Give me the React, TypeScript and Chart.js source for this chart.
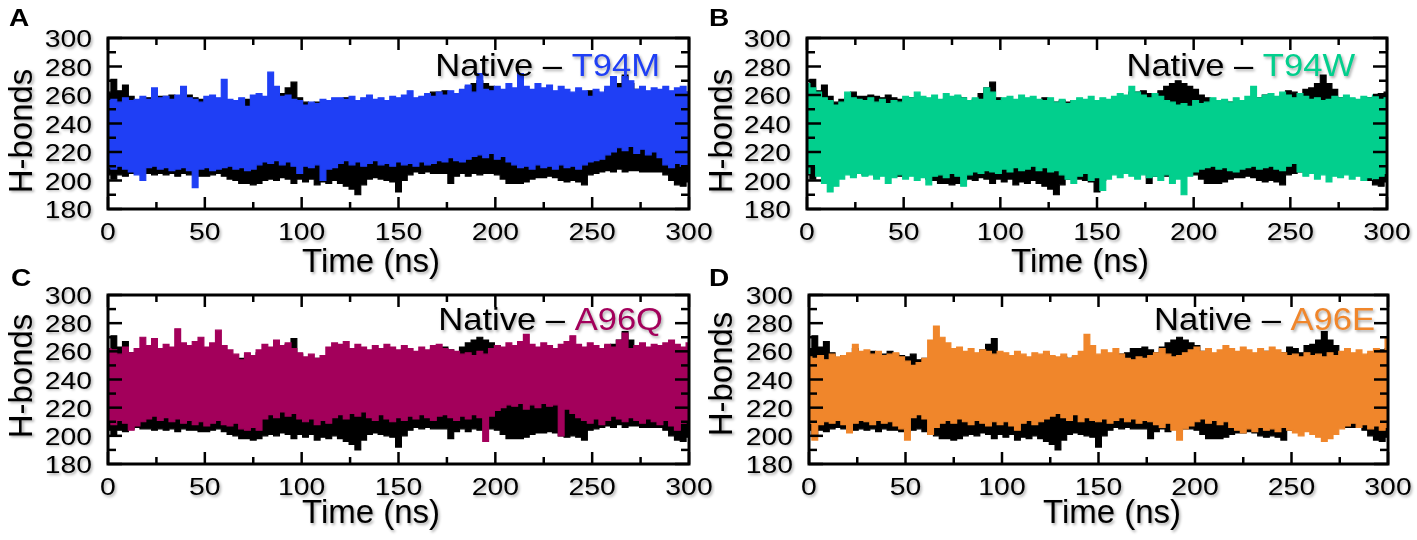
import { useEffect, useRef } from 'react';
import { Chart, registerables } from 'chart.js';

Chart.register(...registerables);

// ---------- data (H-bond counts, upper / lower envelopes every 3 ns) ----------
const TIME_NS = Array.from({ length: 101 }, (_, i) => i * 3);
const X_TICKS = [0, 50, 100, 150, 200, 250, 300];
const X_MINOR_TICKS = [25, 75, 125, 175, 225, 275];
const Y_TICKS = [180, 200, 220, 240, 260, 280, 300];
const Y_MINOR_TICKS = [190, 210, 230, 250, 270, 290];

const NATIVE_HI = [
  262, 271, 263, 267, 259, 255, 257, 258, 262, 259,
  259, 260, 259, 258, 260, 258, 257, 256, 258, 254,
  255, 254, 255, 255, 257, 256, 259, 258, 256, 257,
  261, 265, 269, 258, 255, 254, 255, 255, 254, 255,
  255, 258, 256, 255, 256, 255, 256, 255, 256, 255,
  255, 256, 255, 256, 258, 259, 262, 262, 263, 261,
  259, 263, 266, 268, 270, 268, 266, 264, 260, 258,
  256, 255, 256, 255, 255, 256, 255, 255, 258, 260,
  258, 258, 259, 263, 262, 259, 264, 265, 268, 274,
  268, 264, 258, 256, 257, 255, 256, 258, 259, 261,
  262,
];
const NATIVE_LO = [
  204, 201, 204, 203, 205, 206, 205, 205, 204, 205,
  204, 205, 203, 205, 204, 204, 203, 203, 204, 205,
  203, 201, 200, 198, 198, 197, 198, 200, 201, 200,
  202, 201, 198, 201, 199, 201, 197, 199, 198, 200,
  198, 196, 194, 190, 197, 201, 202, 201, 200, 199,
  192, 200, 204, 206, 205, 206, 205, 205, 205, 198,
  203, 205, 203, 205, 204, 205, 205, 204, 201, 198,
  198, 198, 199, 201, 202, 202, 203, 202, 200, 199,
  200, 199, 197, 204, 205, 206, 207, 206, 208, 206,
  207, 207, 206, 206, 206, 206, 204, 200, 197, 196,
  199,
];

const T94M_HI = [
  256, 257, 255, 258, 256, 257, 259, 257, 265, 258,
  259, 257, 260, 266, 258, 257, 255, 259, 260, 258,
  271, 257, 256, 258, 252, 260, 261, 259, 276, 266,
  259, 260, 257, 256, 253, 255, 254, 257, 256, 258,
  258, 257, 259, 256, 258, 260, 257, 258, 256, 259,
  258, 260, 263, 258, 259, 261, 259, 262, 260, 263,
  261, 264, 267, 262, 275, 264, 263, 266, 264, 268,
  265, 275, 266, 264, 268, 265, 267, 263, 266, 264,
  262, 265, 263, 259, 264, 262, 266, 273, 265, 273,
  270, 264, 266, 263, 265, 264, 266, 263, 265, 266,
  262,
];
const T94M_LO = [
  209, 208, 210, 208, 206, 204, 200, 209, 210, 208,
  209, 207, 208, 209, 207, 195, 208, 209, 207, 208,
  209, 210, 208, 209, 207, 208, 211, 213, 212, 214,
  211, 213, 210, 205, 210, 209, 211, 200, 208, 209,
  212, 214, 211, 213, 210, 212, 214, 211, 212, 210,
  213, 211, 212, 210, 213, 211, 212, 214, 213, 216,
  214, 213, 215, 217, 218, 216, 219, 215, 217, 213,
  211, 209, 210, 208, 211, 209, 210, 208, 211, 209,
  210, 208, 211, 213, 214, 215, 218, 220, 223, 221,
  224, 219, 222, 218, 220, 216, 211, 209, 212, 210,
  211,
];

const T94W_HI = [
  268, 265, 262, 258, 256, 253, 255, 262, 258, 257,
  256, 258, 255, 257, 254, 256, 255, 259, 258, 262,
  259, 258, 260, 257, 261, 259, 260, 258, 256, 258,
  257, 265, 262, 256, 258, 259, 257, 260, 258, 259,
  257, 256, 258, 255, 257, 254, 256, 258, 257, 259,
  256, 258, 257, 259, 261, 260, 266, 262, 260, 258,
  261, 259, 256, 255, 253, 254, 252, 256, 254, 255,
  258, 256, 257, 255, 258, 256, 259, 266, 258, 260,
  261, 259, 262, 260, 258, 261, 259, 257, 258, 256,
  257, 259, 258, 260, 258, 257, 259, 258, 260, 257,
  258,
];
const T94W_LO = [
  205, 210, 203, 198, 192, 196, 201, 204, 202, 205,
  203, 204, 201, 203, 198, 202, 204, 201, 203, 200,
  202, 197, 203, 204, 202, 205, 203, 196, 204, 206,
  205, 207, 206, 205, 208, 206, 209, 207, 208, 210,
  207, 209, 206, 207, 204, 201, 198, 203, 205, 200,
  202, 193, 201, 204, 202, 205, 203, 201, 204, 202,
  203, 200, 204, 198, 201, 190, 203, 206, 208, 209,
  210, 208, 209, 207, 206, 208, 209, 210, 208, 209,
  210, 208, 207, 210, 212, 206, 203, 205, 201, 204,
  199, 203, 202, 204, 201, 203, 200, 202, 201, 203,
  205,
];

const A96Q_HI = [
  262, 261, 258, 263, 259, 262, 270, 264, 269, 262,
  265, 263, 276, 266, 264, 267, 270, 263, 266, 275,
  264, 261, 258, 254, 259, 257, 261, 265, 263, 268,
  264, 266, 262, 259, 256, 258, 255, 257, 263, 266,
  265, 267, 262, 265, 263, 261, 264, 262, 265, 263,
  261, 264, 262, 260, 263, 261, 264, 265, 262, 261,
  260, 258, 259, 257, 260, 258, 262, 264, 263, 266,
  264, 267, 272, 265, 263, 266, 264, 262, 265, 267,
  271, 265, 263, 266, 264, 262, 265, 263, 268, 273,
  262, 264, 266, 263, 265, 264, 266, 268, 265, 263,
  266,
];
const A96Q_LO = [
  210, 208, 211, 209, 204, 207, 210, 212, 214, 211,
  213, 210, 212, 209, 211, 208, 210, 207, 209, 211,
  208, 207, 209, 205, 204, 206, 204, 212, 215, 213,
  217, 214, 216, 212, 210, 212, 208, 211, 209, 213,
  215, 212, 216, 214, 217, 213, 211, 215, 212, 210,
  213, 211, 214, 212, 215, 213, 211, 214, 215, 213,
  211, 214, 212, 215, 213, 196, 214, 218, 220, 222,
  221, 223, 219, 222, 220, 223, 221, 222, 200, 219,
  216, 213, 211, 209, 212, 208, 211, 214, 212, 210,
  213, 211, 209, 212, 210, 208, 211, 207, 204, 209,
  210,
];

const A96E_HI = [
  256, 255, 257, 254, 258, 256, 257, 259, 265, 260,
  261, 258, 260, 257, 258, 259, 256, 253, 250, 252,
  255, 268, 278, 270, 266, 262, 263, 260, 262, 259,
  261, 260, 258, 260, 259, 257, 260, 258, 256, 259,
  258, 260, 257, 256, 258, 255, 257, 260, 272, 264,
  258, 261, 259, 262, 258, 255, 254, 256, 255, 257,
  259, 262, 258, 256, 257, 259, 261, 263, 260, 262,
  259, 261, 264, 262, 260, 263, 261, 259, 262, 260,
  263, 261, 259, 257, 258, 256, 259, 257, 258, 256,
  259, 257, 260, 262, 259, 261, 258, 260, 262, 259,
  270,
];
const A96E_LO = [
  209, 197, 208, 210, 209, 211, 208, 202, 209, 211,
  210, 208, 211, 209, 210, 207, 205, 197, 213, 215,
  212, 201, 206, 209, 211, 209, 212, 210, 208, 211,
  209, 207, 210, 208, 210, 207, 204, 209, 211, 208,
  210, 212, 214, 216, 213, 211, 215, 210, 213, 211,
  210, 212, 209, 211, 213, 210, 212, 209, 211, 210,
  208, 206, 209, 204, 197, 205, 207, 210, 212, 209,
  211, 208, 210, 206, 204, 202, 205, 203, 206, 204,
  205, 203, 206, 204, 202, 200, 203, 201, 199, 196,
  198, 201, 205, 207, 209, 206, 208, 205, 207, 204,
  206,
];

// ---------- layout / style ----------
const FAMILY = '"Liberation Sans", Arial, Helvetica, sans-serif';
const TICK_FONT = `24px ${FAMILY}`;
const TICK_SX = 1.18;
const TITLE_FONT = `33px ${FAMILY}`;
const ANN_FONT = `32px ${FAMILY}`;
const ANN_SX = 1.08;
const LETTER_FONT = `bold 23px ${FAMILY}`;
const LETTER_SX = 1.22;

type Box = { l: number; t: number; r: number; b: number };
type Pt = { x: number; y: number };
type PanelSpec = {
  letter: string;
  mutant: string;
  color: string;
  hi: number[];
  lo: number[];
  left: number;
  top: number;
  w: number;
  h: number;
  area: Box;
  letterPos: Pt;
  xTitle: Pt;
  yTitle: Pt;
  ann: Pt;
};

const PANELS: PanelSpec[] = [
  {
    letter: 'A', mutant: 'T94M', color: '#1f3ff5', hi: T94M_HI, lo: T94M_LO,
    left: 0, top: 0, w: 715, h: 284, area: { l: 108, t: 38, r: 689, b: 209 },
    letterPos: { x: 9, y: 26 }, xTitle: { x: 302, y: 272 }, yTitle: { x: 32, y: 131 }, ann: { x: 660, y: 76 },
  },
  {
    letter: 'B', mutant: 'T94W', color: '#02cf8d', hi: T94W_HI, lo: T94W_LO,
    left: 700, top: 0, w: 715, h: 284, area: { l: 107, t: 38, r: 687, b: 209 },
    letterPos: { x: 9, y: 26 }, xTitle: { x: 311, y: 272 }, yTitle: { x: 32, y: 131 }, ann: { x: 655, y: 76 },
  },
  {
    letter: 'C', mutant: 'A96Q', color: '#a3005b', hi: A96Q_HI, lo: A96Q_LO,
    left: 0, top: 262, w: 715, h: 278, area: { l: 108, t: 33, r: 689, b: 202 },
    letterPos: { x: 11, y: 24 }, xTitle: { x: 302, y: 261 }, yTitle: { x: 32, y: 114 }, ann: { x: 663, y: 68 },
  },
  {
    letter: 'D', mutant: 'A96E', color: '#f0862b', hi: A96E_HI, lo: A96E_LO,
    left: 700, top: 262, w: 715, h: 278, area: { l: 109, t: 33, r: 688, b: 202 },
    letterPos: { x: 9, y: 24 }, xTitle: { x: 343, y: 261 }, yTitle: { x: 32, y: 112 }, ann: { x: 675, y: 68 },
  },
];

function drawText(
  ctx: CanvasRenderingContext2D,
  s: string,
  x: number,
  y: number,
  font: string,
  color: string,
  align: CanvasTextAlign,
  sx = 1,
  rot = 0,
  shadow = true,
) {
  ctx.save();
  ctx.translate(x, y);
  if (rot) ctx.rotate(rot);
  ctx.scale(sx, 1);
  ctx.font = font;
  ctx.fillStyle = color;
  ctx.textAlign = align;
  ctx.textBaseline = 'alphabetic';
  if (shadow) {
    ctx.shadowColor = 'rgba(0,0,0,0.33)';
    ctx.shadowBlur = 3;
    ctx.shadowOffsetX = 1.5;
    ctx.shadowOffsetY = 1.5;
  }
  ctx.fillText(s, 0, 0);
  ctx.restore();
}

function makeFramePlugin(spec: PanelSpec) {
  return {
    id: 'frame' + spec.letter,
    afterDraw(chart: any) {
      const ctx: CanvasRenderingContext2D = chart.ctx;
      const a = chart.chartArea;
      const xs = chart.scales.x;
      const ys = chart.scales.y;
      ctx.save();
      ctx.strokeStyle = '#000';
      ctx.lineCap = 'butt';
      ctx.lineWidth = 2.5;
      const seg = (x1: number, y1: number, x2: number, y2: number) => {
        ctx.beginPath();
        ctx.moveTo(x1, y1);
        ctx.lineTo(x2, y2);
        ctx.stroke();
      };
      const xt = (vals: number[], len: number) => {
        vals.forEach((v) => {
          const px = xs.getPixelForValue(v);
          seg(px, a.bottom, px, a.bottom - len);
          seg(px, a.top, px, a.top + len);
        });
      };
      const yt = (vals: number[], len: number) => {
        vals.forEach((v) => {
          const py = ys.getPixelForValue(v);
          seg(a.left, py, a.left + len, py);
          seg(a.right, py, a.right - len, py);
        });
      };
      xt(X_TICKS, 12);
      xt(X_MINOR_TICKS, 7);
      yt(Y_TICKS, 14);
      yt(Y_MINOR_TICKS, 8);
      ctx.lineWidth = 3;
      ctx.strokeRect(a.left, a.top, a.right - a.left, a.bottom - a.top);
      ctx.restore();

      // tick labels
      X_TICKS.forEach((v) => {
        drawText(ctx, String(v), xs.getPixelForValue(v), a.bottom + 31, TICK_FONT, '#000', 'center', TICK_SX);
      });
      Y_TICKS.forEach((v) => {
        drawText(ctx, String(v), a.left - 16, ys.getPixelForValue(v) + 9, TICK_FONT, '#000', 'right', TICK_SX);
      });

      // axis titles
      drawText(ctx, 'Time (ns)', spec.xTitle.x, spec.xTitle.y, TITLE_FONT, '#000', 'left');
      drawText(ctx, 'H-bonds', spec.yTitle.x, spec.yTitle.y, TITLE_FONT, '#000', 'center', 1, -Math.PI / 2);

      // annotation
      ctx.save();
      ctx.font = ANN_FONT;
      const wm = ctx.measureText(spec.mutant).width * ANN_SX;
      ctx.restore();
      drawText(ctx, spec.mutant, spec.ann.x, spec.ann.y, ANN_FONT, spec.color, 'right', ANN_SX);
      drawText(ctx, 'Native – ', spec.ann.x - wm, spec.ann.y, ANN_FONT, '#000', 'right', ANN_SX);

      // panel letter
      drawText(ctx, spec.letter, spec.letterPos.x, spec.letterPos.y, LETTER_FONT, '#000', 'left', LETTER_SX, 0, false);
    },
  };
}

function series(values: number[], color: string, fill: string | boolean) {
  return {
    data: values.map((v, i) => ({ x: TIME_NS[i], y: v })),
    borderColor: color,
    backgroundColor: color,
    borderWidth: 1.2,
    pointRadius: 0,
    stepped: 'middle' as const,
    tension: 0,
    fill,
  };
}

function Panel({ spec }: { spec: PanelSpec }) {
  const ref = useRef<HTMLCanvasElement>(null);
  useEffect(() => {
    const canvas = ref.current;
    if (!canvas) return;
    const chart = new Chart(canvas, {
      type: 'line',
      data: {
        datasets: [
          series(spec.lo, spec.color, false),
          series(spec.hi, spec.color, '-1'),
          series(NATIVE_LO, '#000000', false),
          series(NATIVE_HI, '#000000', '-1'),
        ] as any,
      },
      options: {
        animation: false,
        responsive: false,
        events: [],
        layout: {
          padding: {
            left: spec.area.l,
            top: spec.area.t,
            right: spec.w - spec.area.r,
            bottom: spec.h - spec.area.b,
          },
        },
        plugins: { legend: { display: false }, tooltip: { enabled: false } },
        scales: {
          x: { type: 'linear', display: false, min: 0, max: 300 },
          y: { type: 'linear', display: false, min: 180, max: 300 },
        },
      },
      plugins: [makeFramePlugin(spec)],
    });
    return () => chart.destroy();
  }, [spec]);
  return (
    <canvas
      ref={ref}
      width={spec.w}
      height={spec.h}
      style={{ position: 'absolute', left: spec.left, top: spec.top, width: spec.w, height: spec.h }}
    />
  );
}

export default function App() {
  return (
    <div style={{ position: 'fixed', left: 0, top: 0, width: 1417, height: 540, background: '#fff', overflow: 'hidden' }}>
      {PANELS.map((p) => (
        <Panel key={p.letter} spec={p} />
      ))}
    </div>
  );
}
